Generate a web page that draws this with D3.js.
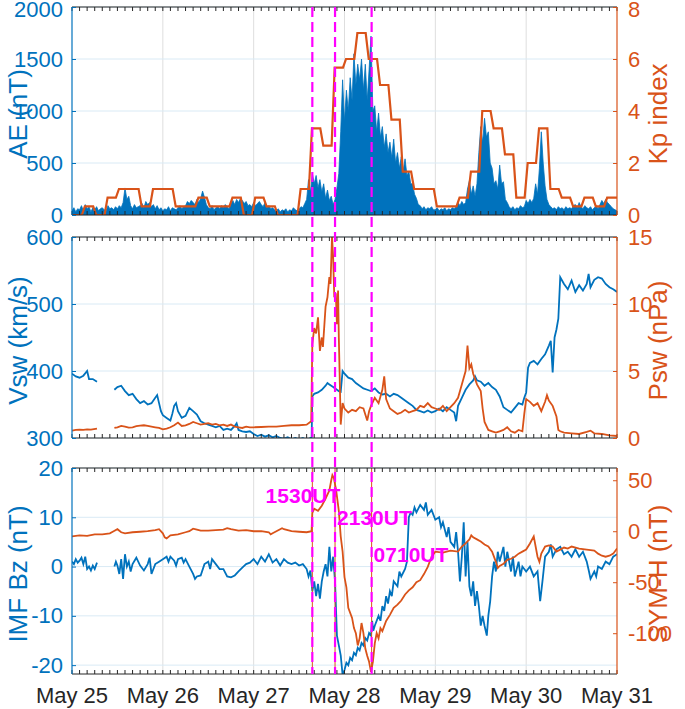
<!DOCTYPE html>
<html><head><meta charset="utf-8">
<script src="https://cdn.jsdelivr.net/npm/d3@7"></script>
<style>body{margin:0;background:#fff} text{font-family:"Liberation Sans",Arial,Helvetica,sans-serif}</style>
</head><body><svg id="c" width="685" height="709"></svg>
<script>
// ---- data (time in hours from May 25 00:00 UT) ----
const dayLabels = ["May 25","May 26","May 27","May 28","May 29","May 30","May 31"];
const dayHours = [0,24,48,72,96,120,144];
const eventHours = [63.5, 69.5, 79.1667];
const eventLabels = ["1530UT","2130UT","0710UT"];

// AE (nT), one value every 30 minutes
const aeStep = 0.5;
const aeValues = [
40,70,30,60,50,90,40,100,60,80,30,70,
50,80,40,60,70,50,40,90,60,70,50,80,
60,90,70,120,260,150,180,90,60,100,70,80,
90,110,70,130,100,120,80,100,60,90,50,70,
40,60,50,80,40,70,60,50,70,90,60,80,
90,130,110,140,120,100,150,120,160,230,170,100,
70,60,90,50,70,80,60,90,70,100,80,60,
110,140,100,150,120,160,140,110,130,90,100,80,
120,90,110,130,100,80,120,70,90,60,70,50,
40,60,30,50,40,60,30,50,40,70,50,40,
60,80,70,110,
150,340,220,400, 300,380,260,340, 220,300,160,240, 140,180,100,150,
260,400,800,1300, 900,1200,1000,1320, 1100,1550,1250,1450, 1300,1500,1200,1450,
1100,1400,1720,1000, 1050,800,980,750, 850,650,780,600, 700,550,730,500,
600,450,560,420, 540,380,420,300, 300,200,160,100,
90,60,80,50,70,60,80,50,
50,70,40,60,50,70,40,60,50,70,60,80,
120,90,130,100, 120,250,330,200, 280,180,300,600, 850,700,930,750,
800,500,450,300, 330,250,480,300, 320,150,120,80,
60,80,50,70, 60,90,70,80,
140,110,150,120, 160,300,200,450, 800,500,280,150,
100,80,60,70,50,80,60,70,50,80,60,70,
60,90,100,70,120,80,60,90,70,60,80,50,
70,90,60,100,140,110,150,120,100,80,60,50,40];

// Kp index, one value per 3-hour interval
const kpValues = [0,0.33,0,0.67,1,1,0.33,1,1,0.33,0.33,0.67,0.33,0.33,0.67,0,0.67,0.33,0,0,1,3.33,2.67,5.67,
6,7,6,5,3.67,1.67,1,1,0.33,0.33,0.67,1.67,4,3.33,2.33,0.67,2,3.33,1,0.67,0.33,0.67,0.33,0.67];

const vsw = [[0,396],[1,392],[2,390],[3,393],[4,400],[4.5,388],[5.5,388],[6.6,384],[6.7,null],
[11.2,372],[12,376],[13,378],[14,370],[15,364],[16,366],[17,358],[18,352],[19,355],[20,350],[21,352],[22,360],[22.5,364],[23,352],[23.5,340],[24,334],[25,330],[26,326],[26.5,336],[27,348],[27.5,352],[28,340],[29,330],[30,333],[31,345],[32,340],[33,335],[34,325],[35,322],[36,320],[37,318],[38,316],[39,318],[40,312],[41,314],[42,312],[43,318],[43.5,322],[44,312],[45,310],[46,309],[47,310],[48,306],[49,303],[50,305],[51,302],[52,304],[53,301],[54,303],[55,300],[56,299],[57,301],[58,298],[59,300],[60,298],[61,300],[62,297],[63,300],[63.3,296],[63.5,362],[64,366],[65,368],[66,372],[67,378],[67.5,382],[68,380],[69,376],[70,372],[70.5,370],[71,369],[71.5,400],[72,396],[73,390],[74,388],[75,382],[76,378],[77,374],[78,372],[79,370],[80,374],[81,368],[82,365],[83,366],[84,362],[85,366],[86,364],[87,360],[88,356],[89,352],[90,348],[91,342],[92,340],[93,338],[94,341],[95,338],[96,340],[97,344],[98,340],[99,346],[100,342],[101,338],[101.5,325],[102,348],[103,360],[104,372],[105,380],[106,386],[106.5,392],[107,386],[108,384],[109,378],[110,382],[111,376],[112,372],[113,362],[114,346],[115,342],[116,338],[117,345],[118,352],[119,350],[119.5,360],[120,368],[120.5,405],[121,412],[122,415],[123,410],[124,418],[125,425],[126,438],[126.5,445],[127,398],[127.5,450],[128,462],[128.5,478],[129,540],[130,530],[131,522],[132,535],[133,518],[134,528],[135,520],[136,530],[136.5,545],[137,525],[138,536],[139,540],[140,538],[141,530],[142,525],[143,522],[144,518]];

const psw = [[0,0.55],[1,0.6],[2,0.62],[3,0.6],[4,0.65],[5,0.62],[6.6,0.7],[6.7,null],
[11.2,0.75],[12,0.8],[13,0.9],[14,0.85],[15,0.78],[16,0.8],[17,0.88],[18,0.92],[19,0.95],[20,0.9],[21,0.85],[22,0.8],[23,0.75],[24,0.65],[25,0.7],[26,0.8],[27,0.95],[28,1.15],[29,0.9],[30,0.95],[31,1.05],[32,1.2],[33,1.1],[34,1.0],[35,1.05],[36,1.1],[37,1.0],[38,1.05],[39,0.95],[40,1.0],[41,0.9],[42,1.0],[43,0.85],[44,0.8],[45,0.75],[46,0.85],[47,0.8],[48,0.8],[50,0.82],[52,0.85],[54,0.85],[56,0.9],[58,0.95],[60,0.95],[62,1.0],[63.2,1.25],[63.5,7.0],[64,8.2],[64.5,7.8],[65,9.0],[65.5,6.5],[66,7.5],[66.3,6.8],[67,9.8],[67.5,10.5],[68,12],[68.3,11.5],[68.7,15],[69,13.5],[69.3,10.5],[69.7,10.8],[70,8.5],[70.3,11.0],[70.5,7.5],[71,1.0],[71.5,2.6],[72,2.2],[73,1.9],[74,2.1],[75,2.0],[76,2.3],[77,2.2],[78,1.3],[78.5,2.0],[79,2.4],[80,3.0],[81,2.6],[82,3.6],[82.5,4.6],[83,2.9],[84,2.2],[85,2.0],[86,1.8],[87,1.9],[88,2.1],[89,1.9],[90,2.0],[91,2.1],[92,2.4],[93,2.3],[94,2.6],[95,2.3],[96,2.2],[97,2.1],[98,2.4],[99,2.0],[100,2.3],[101,2.6],[102,3.0],[103,4.0],[104,5.0],[104.5,6.9],[105,5.2],[105.5,5.5],[106,4.8],[107,4.0],[108,3.5],[108.5,2.2],[109,1.2],[110,0.6],[111,0.5],[112,0.4],[113,0.5],[114,0.6],[115,0.8],[116,0.5],[117,0.4],[118,0.6],[119,0.5],[119.5,1.8],[120,2.9],[121,2.7],[122,2.4],[123,2.6],[124,2.0],[125,2.7],[125.5,3.2],[126,2.8],[127,2.4],[128,1.6],[128.5,0.6],[129,0.5],[130,0.4],[132,0.35],[134,0.3],[136,0.45],[137,0.55],[138,0.35],[140,0.3],[142,0.2],[144,0.15]];

const bz = [[0,1.0],[0.5,0.5],[1,1.5],[1.5,0.8],[2,1.2],[2.5,1.8],[3,0.5],[3.5,2.0],[4,-0.5],[4.5,0],[5,-0.8],[5.5,0.2],[6,-0.5],[6.6,0.8],[6.7,null],
[11.2,0],[11.6,1.0],[12,0.2],[12.5,-1.5],[13,1.5],[13.5,-2.5],[14,2.5],[14.5,0],[15,1.0],[15.5,-1.0],[16,0.5],[17,1.8],[18,0.2],[19,-0.8],[20,0.5],[20.5,1.8],[21,-1.5],[22,0.5],[23,1.0],[24,1.5],[25,2.0],[25.5,1.0],[26,2.0],[27,1.2],[27.5,0.2],[28,1.5],[29,1.8],[29.5,0.8],[30,1.5],[31,0],[32,-1.5],[32.5,-2.5],[33,-2.0],[34,-1.8],[35,0.5],[36,1.0],[36.5,-0.5],[37,1.5],[38,0.5],[39,-0.5],[40,-0.5],[41,-2.0],[42,-2.2],[43,-1.8],[44,-1.0],[45,-0.2],[46,0.5],[47,0.8],[48,1.5],[49,0.5],[50,2.0],[51,1.0],[52,2.5],[53,0.8],[54,1.5],[55,0.2],[56,1.5],[57,0.8],[58,0.5],[59,0.8],[60,0.2],[61,0.5],[62,-0.5],[62.5,-2.0],[63,-0.8],[63.5,-5],[64,-3],[64.5,-6],[65,-3.5],[65.5,-6.5],[66,-3],[66.5,-1],[67,0.5],[67.5,-2],[68,4],[68.5,-1],[69,2],[69.3,-1],[69.5,-3],[70,-14],[70.5,-16],[71,-18],[71.5,-22],[72,-21],[72.5,-19.5],[73,-20],[73.5,-18.5],[74,-19],[74.5,-17.5],[75,-18],[75.5,-16.5],[76,-17],[76.5,-15.5],[77,-16],[77.5,-14.5],[78,-15],[78.5,-13.5],[79,-14],[79.3,-11],[79.6,-13],[80,-12],[81,-10],[81.5,-11],[82,-8],[82.5,-9],[83,-6],[83.5,-7.5],[84,-5],[84.5,-6],[85,-3],[86,-4],[86.5,-1],[87,-2],[88,-0.5],[88.5,1],[89,10],[89.5,11],[90,10.5],[90.5,12],[91,11],[92,12.5],[93,11.5],[93.5,13],[94,10.5],[95,11.5],[96,9.5],[97,10],[97.5,8],[98,9],[99,6],[99.5,8],[100,5],[101,4],[101.5,7],[102,3],[102.5,-3],[103,2],[103.5,9],[104,-2],[104.5,5],[105,-4],[105.5,-6],[106,-3],[106.5,-8],[107,-5],[107.5,-8],[108,-12],[108.5,-10],[109,-12],[109.6,-14],[110,-10],[110.5,-7],[111,-2],[111.5,1],[112,-1],[112.5,3],[113,1],[114,4],[114.5,0],[115,3],[116,-1],[116.5,2],[117,-2],[118,1],[118.5,-2],[119,0],[120,-1],[121,0],[122,-2],[123,-1],[123.7,-7],[124.3,-3],[125,2],[126,3],[126.5,4.5],[127,2],[128,3.5],[129,4],[130,2.5],[131,3],[132,2],[133,3.5],[134,2],[135,3],[136,1],[136.6,-1],[137,-2.5],[138,-1],[138.5,-2],[139,0],[140,-0.5],[141,1],[142,0.5],[143,2],[144,2.5]];

const symh = [[0,-5],[2,-4],[4,-4.5],[6,-3],[8,-3],[10,-2],[11,0],[12,2],[13,-1],[14,-2],[16,-1],[18,-0.5],[20,0],[22,1],[23,2],[24,-2],[24.5,-6],[25,-7],[26,-4],[28,-3],[30,-1],[31,0],[32,2.5],[33,1.5],[34,0.5],[36,0.5],[38,1],[40,1.5],[41,3],[42,2],[44,0.5],[46,1],[48,0],[50,0],[52,-1],[52.5,-3],[53,-2],[54,0],[55,2],[55.5,3],[56,2],[58,0],[60,-0.5],[62,-1],[63.3,0],[63.5,18],[64,22],[65,20],[66,25],[67,32],[68,40],[68.5,50],[68.8,55],[69.2,52],[69.8,40],[70.5,20],[71,-5],[71.5,-20],[72,-45],[72.5,-55],[73,-75],[74,-85],[74.5,-95],[75,-100],[75.5,-112],[76,-105],[76.5,-90],[77,-100],[77.5,-115],[78,-122],[78.5,-128],[79,-138],[79.5,-128],[80,-110],[80.5,-100],[81,-105],[81.5,-95],[82,-98],[83,-88],[84,-82],[85,-75],[86,-72],[87,-68],[88,-62],[89,-58],[90,-55],[91,-50],[92,-48],[93,-42],[94,-35],[95,-25],[96,-20],[98,-21],[100,-19],[102,-20],[103,-15],[104,-12],[105,-8],[105.5,-4],[106,-6],[107,-8],[108,-10],[109,-13],[110,-15],[111,-20],[112,-30],[112.5,-36],[113,-34],[114,-32],[115,-28],[116,-27],[117,-25],[118,-22],[119,-20],[120,-18],[121,-12],[122,-5],[122.5,-15],[123,-25],[123.5,-30],[124,-22],[125,-15],[126,-14],[127,-15],[128,-20],[129,-18],[130,-16],[131,-17],[132,-15],[134,-17],[136,-18],[138,-19],[139,-22],[140,-24],[141,-25],[142,-24],[143,-22],[144,-17]];

const aeTicks = [0,500,1000,1500,2000];
const kpTicks = [0,2,4,6,8];
const vswTicks = [300,400,500,600];
const pswTicks = [0,5,10,15];
const bzTicks = [-20,-10,0,10,20];
const symTicks = [-100,-50,0,50];

// ---- layout ----
const BLUE="#0072BD", ORANGE="#D95319", MAG="#FF00FF", DARK="#262626";
const X0=72, X1=617;
const svg = d3.select("#c");
const x = d3.scaleLinear().domain([0,144]).range([X0,X1]);

const panels = [
 {top:7,bottom:215, yl:d3.scaleLinear([0,2000],[215,7]), yr:d3.scaleLinear([0,8],[215,7]), lt:aeTicks, rt:kpTicks, ll:"AE (nT)", rl:"Kp index"},
 {top:237,bottom:438, yl:d3.scaleLinear([300,600],[438,237]), yr:d3.scaleLinear([0,15],[438,237]), lt:vswTicks, rt:pswTicks, ll:"Vsw (km/s)", rl:"Psw (nPa)"},
 {top:468,bottom:674, yl:d3.scaleLinear([-21.8,20],[674,468]), yr:d3.scaleLinear([-140,62],[674,468]), lt:bzTicks, rt:symTicks, ll:"IMF Bz (nT)", rl:"SYM-H (nT)"}
];

const defs = svg.append("defs");
panels.forEach((p,i)=>{
  defs.append("clipPath").attr("id","clip"+i).append("rect")
    .attr("x",X0).attr("y",p.top).attr("width",X1-X0).attr("height",p.bottom-p.top);
  const g = svg.append("g");
  g.append("g").selectAll("line").data(dayHours.slice(1,-1)).join("line")
    .attr("x1",d=>x(d)).attr("x2",d=>x(d)).attr("y1",p.top).attr("y2",p.bottom)
    .attr("stroke","#dedede").attr("stroke-width",1);
  g.append("g").selectAll("line").data(p.lt).join("line")
    .attr("x1",X0).attr("x2",X1).attr("y1",d=>p.yl(d)).attr("y2",d=>p.yl(d))
    .attr("stroke","#d9eaf5").attr("stroke-width",1);
  p.data = svg.append("g").attr("clip-path",`url(#clip${i})`);
});

// Panel 1: AE area + Kp line
{
  const p = panels[0];
  const aePts = aeValues.map((v,i)=>[i*aeStep,v]);
  p.data.append("path").datum(aePts)
    .attr("d", d3.area().x(d=>x(d[0])).y0(p.yl(0)).y1(d=>p.yl(d[1])))
    .attr("fill",BLUE).attr("stroke",BLUE).attr("stroke-width",0.8);
  const kpPts = [];
  kpValues.forEach((v,i)=>{ kpPts.push([i*3+(i?0.4:0),v]); kpPts.push([i*3+3-(i<47?0.4:0),v]); });
  p.data.append("path").datum(kpPts)
    .attr("d", d3.line().x(d=>x(d[0])).y(d=>p.yr(d[1])))
    .attr("fill","none").attr("stroke",ORANGE).attr("stroke-width",2.2);
}
const mkLine = s => d3.line().defined(d=>d[1]!==null).x(d=>x(d[0])).y(d=>s(d[1]));
// Panel 2
{
  const p = panels[1];
  p.data.append("path").datum(vsw).attr("d",mkLine(p.yl)).attr("fill","none").attr("stroke",BLUE).attr("stroke-width",1.8);
  p.data.append("path").datum(psw).attr("d",mkLine(p.yr)).attr("fill","none").attr("stroke",ORANGE).attr("stroke-width",1.8);
}
// Panel 3
{
  const p = panels[2];
  p.data.append("path").datum(bz).attr("d",mkLine(p.yl)).attr("fill","none").attr("stroke",BLUE).attr("stroke-width",1.8);
  p.data.append("path").datum(symh).attr("d",mkLine(p.yr)).attr("fill","none").attr("stroke",ORANGE).attr("stroke-width",1.8);
  p.data.append("g").selectAll("line").data(eventHours).join("line")
    .attr("x1",d=>x(d)).attr("x2",d=>x(d)).attr("y1",p.top).attr("y2",p.bottom)
    .attr("stroke",ORANGE).attr("stroke-width",1);
}

// axes
const minor = d3.range(0,145,2);
panels.forEach((p,i)=>{
  const g = svg.append("g");
  g.append("g").selectAll("line").data(minor).join("line")
    .attr("x1",d=>x(d)).attr("x2",d=>x(d)).attr("y1",p.top).attr("y2",p.top+4)
    .attr("stroke",DARK).attr("stroke-width",1);
  g.append("g").selectAll("line").data(minor).join("line")
    .attr("x1",d=>x(d)).attr("x2",d=>x(d)).attr("y1",p.bottom).attr("y2",p.bottom-4)
    .attr("stroke",DARK).attr("stroke-width",1);
  g.append("line").attr("x1",X0).attr("x2",X1).attr("y1",p.top).attr("y2",p.top).attr("stroke",DARK);
  g.append("line").attr("x1",X0).attr("x2",X1).attr("y1",p.bottom).attr("y2",p.bottom).attr("stroke",DARK);
  const la = g.append("g").attr("transform",`translate(${X0},0)`)
    .call(d3.axisLeft(p.yl).tickValues(p.lt).tickSize(-4).tickPadding(9).tickFormat(d=>String(d)));
  la.select(".domain").remove();
  la.selectAll("line").attr("stroke",BLUE);
  la.selectAll("text").attr("fill",BLUE).style("font-size","22px").style("font-family","'Liberation Sans',Arial,sans-serif");
  g.append("line").attr("x1",X0).attr("x2",X0).attr("y1",p.top).attr("y2",p.bottom).attr("stroke",BLUE).attr("stroke-width",1.2);
  const ra = g.append("g").attr("transform",`translate(${X1},0)`)
    .call(d3.axisRight(p.yr).tickValues(p.rt).tickSize(-4).tickPadding(11).tickFormat(d=>String(d)));
  ra.select(".domain").remove();
  ra.selectAll("line").attr("stroke",ORANGE);
  ra.selectAll("text").attr("fill",ORANGE).style("font-size","22px").style("font-family","'Liberation Sans',Arial,sans-serif");
  g.append("line").attr("x1",X1).attr("x2",X1).attr("y1",p.top).attr("y2",p.bottom).attr("stroke",ORANGE).attr("stroke-width",1.2);
  if (i===0) {
    // keep the topmost tick labels inside the picture
    la.selectAll(".tick text").filter(d=>d===2000).attr("y",2);
    ra.selectAll(".tick text").filter(d=>d===8).attr("y",2);
  }
  const cy = (p.top+p.bottom)/2 + 3;
  g.append("text").attr("transform",`translate(27,${cy}) rotate(-90)`).attr("text-anchor","middle")
    .attr("fill",BLUE).style("font-size","26px").text(p.ll);
  g.append("text").attr("transform",`translate(667,${cy}) rotate(-90)`).attr("text-anchor","middle")
    .attr("fill",ORANGE).style("font-size","26px").text(p.rl);
});

svg.append("g").selectAll("text").data(dayHours).join("text")
  .attr("x",d=>x(d)).attr("y",703).attr("text-anchor","middle")
  .attr("fill",DARK).style("font-size","22px").text((d,i)=>dayLabels[i]);

svg.append("g").selectAll("line").data(eventHours).join("line")
  .attr("x1",d=>x(d)).attr("x2",d=>x(d)).attr("y1",7).attr("y2",674)
  .attr("stroke",MAG).attr("stroke-width",2.2).attr("stroke-dasharray","10,5");

const evPos = [{anchor:"end",dx:28,y:503},{anchor:"start",dx:2,y:525},{anchor:"start",dx:2,y:562}];
svg.append("g").selectAll("text").data(eventHours).join("text")
  .attr("x",(d,i)=>x(d)+evPos[i].dx).attr("y",(d,i)=>evPos[i].y)
  .attr("text-anchor",(d,i)=>evPos[i].anchor)
  .attr("fill",MAG).style("font-size","21px").style("font-weight","bold")
  .text((d,i)=>eventLabels[i]);
</script></body></html>
